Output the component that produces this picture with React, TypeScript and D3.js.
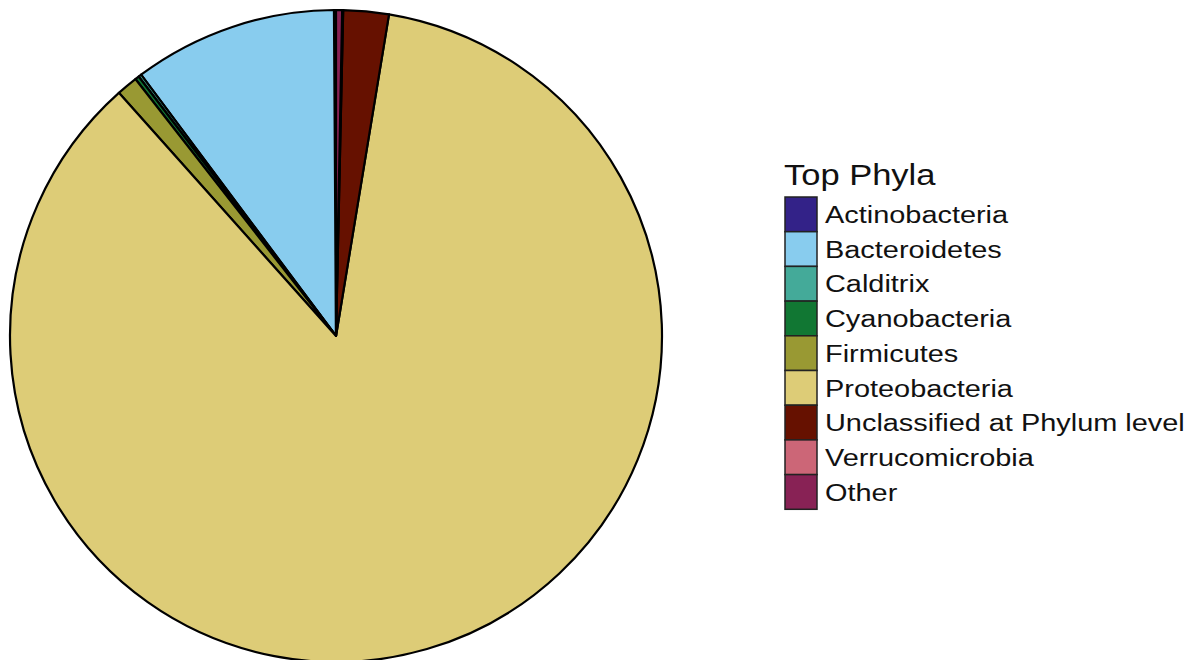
import { useMemo } from 'react';
import * as d3 from 'd3';

const phyla = [
  'Actinobacteria',
  'Bacteroidetes',
  'Calditrix',
  'Cyanobacteria',
  'Firmicutes',
  'Proteobacteria',
  'Unclassified at Phylum level',
  'Verrucomicrobia',
  'Other',
];
const shares = [0.1, 10.1, 0.15, 0.2, 1.05, 85.8, 2.25, 0.05, 0.3];
const colors = ['#332288', '#88CCEE', '#44AA99', '#117733', '#999933', '#DDCC77', '#661100', '#CC6677', '#882255'];

const WIDTH = 1201;
const HEIGHT = 660;
const FONT = '"Liberation Sans", Arial, Helvetica, sans-serif';
// the reference type is set a little wide
const STRETCH = 1.18;

export default function App() {
  const cx = 336;
  const cy = 336;
  const radius = 326;

  const slices = useMemo(() => {
    const rows = phyla.map((name, i) => ({ name, value: shares[i], color: colors[i] }));
    // slices run counter-clockwise from 12 o'clock, in legend order
    return d3.pie<{ name: string; value: number; color: string }>()
      .value(d => d.value)
      .sort(null)
      .startAngle(0)
      .endAngle(-2 * Math.PI)(rows);
  }, []);

  const arc = d3.arc<d3.PieArcDatum<{ name: string; value: number; color: string }>>()
    .innerRadius(0)
    .outerRadius(radius);

  const legendX = 785;
  const legendY = 197;
  const keyW = 32;
  const keyH = 34.7;

  return (
    <div style={{ position: 'absolute', left: 0, top: 0 }}>
      <svg width={WIDTH} height={HEIGHT} style={{ display: 'block', background: '#fff' }}>
        <g transform={`translate(${cx},${cy})`}>
          {slices.map(s => (
            <path key={s.data.name} d={arc(s) || ''} fill={s.data.color} stroke="#000" strokeWidth={2.2} strokeLinejoin="round" />
          ))}
        </g>

        <g fontFamily={FONT}>
          <text transform={`translate(${legendX - 1},185) scale(${STRETCH - 0.03},1)`} fontSize={30} fill="#111">Top Phyla</text>
          {phyla.map((name, i) => (
            <g key={name} transform={`translate(${legendX},${legendY + i * keyH})`}>
              <rect width={keyW} height={keyH} fill={colors[i]} stroke="#222" strokeWidth={1.5} />
              <text transform={`translate(${keyW + 8},26) scale(${STRETCH},1)`} fontSize={24.5} fill="#111">{name}</text>
            </g>
          ))}
        </g>
      </svg>
    </div>
  );
}
